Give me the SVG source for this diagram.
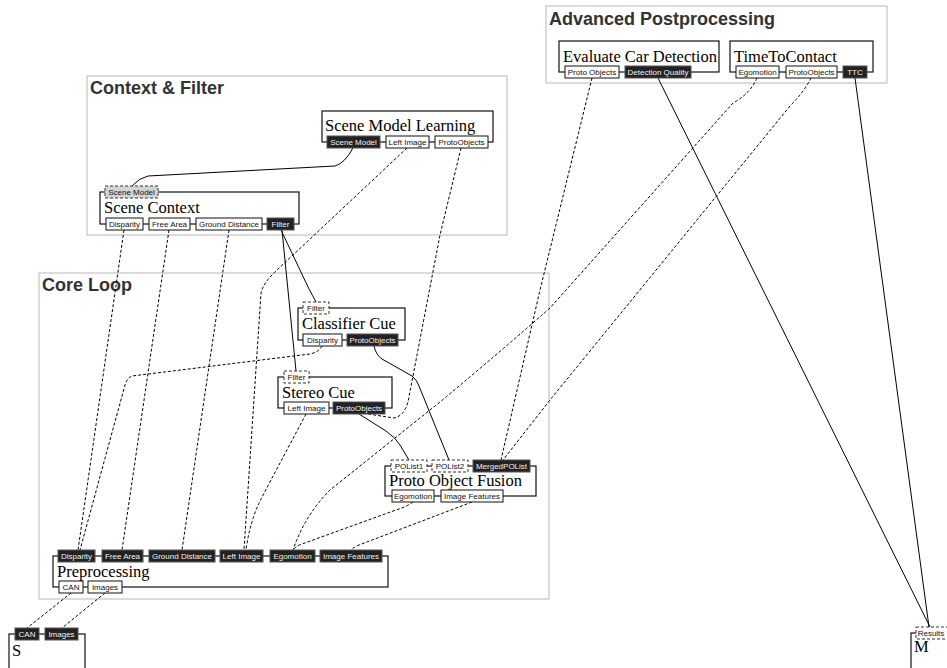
<svg xmlns="http://www.w3.org/2000/svg" width="947" height="668" viewBox="0 0 947 668">
  <style>
    .grp { fill: #fff; stroke: #c4c4c4; stroke-width: 1.2; }
    .gtitle { font-family: "Liberation Sans", Arial, sans-serif; font-weight: bold; font-size: 18px; fill: #333; }
    .body { fill: #fff; stroke: #111; stroke-width: 1.2; }
    .ntitle { font-family: "Liberation Serif", "Times New Roman", serif; font-size: 16.5px; fill: #000; }
    .port text { font-family: "Liberation Sans", Arial, sans-serif; font-size: 8px; text-anchor: middle; fill: #111; }
    .in rect { fill: #fff; stroke: #111; stroke-width: 1; }
    .out rect { fill: #222; stroke: #555; stroke-width: 1; }
    .out text { fill: #f2f2f2; }
    .opt rect { fill: #fff; stroke: #333; stroke-width: 1; stroke-dasharray: 3 2; }
    .opt.shade rect { fill: #d4d4d4; }
    .link { fill: none; stroke: #000; stroke-width: 1; }
    .dash { stroke-dasharray: 3 2; }
  </style>

  <!-- clusters -->
  <g id="cluster-context">
    <rect class="grp" x="87" y="76" width="420" height="159"/>
    <text class="gtitle" x="90" y="94">Context &amp; Filter</text>
  </g>
  <g id="cluster-post">
    <rect class="grp" x="546" y="6" width="341" height="77"/>
    <text class="gtitle" x="549" y="25">Advanced Postprocessing</text>
  </g>
  <g id="cluster-core">
    <rect class="grp" x="39" y="273" width="510" height="326"/>
    <text class="gtitle" x="42" y="291">Core Loop</text>
  </g>

  <!-- connectors -->
  <g id="edges">
    <!-- solid: control / object flow -->
    <path class="link" d="M353,148 Q345,163 335,166 L148,176 Q139,178 132,186"/>
    <path class="link" d="M281,230 L309,289 Q313,296 316,302"/>
    <path class="link" d="M282,230 L296,371"/>
    <path class="link" d="M374,346 Q376,355 382,359 L412,376 Q417,380 419,386 L449,460"/>
    <path class="link" d="M359,414 L386,431 Q396,438 400,445 L409,460"/>
    <path class="link" d="M658,78 L930,627"/>
    <path class="link" d="M855,78 L929,627"/>

    <!-- dashed: data streams -->
    <path class="link dash" d="M407,148 L277,270 Q263,283 261,293 L244,550"/>
    <path class="link dash" d="M461,148 L440,235 L408,402 Q404,416 394,418 L368,414"/>
    <path class="link dash" d="M124,230 L78,550"/>
    <path class="link dash" d="M169,230 L122,550"/>
    <path class="link dash" d="M229,230 L182,550"/>
    <path class="link dash" d="M322,346 Q319,352 310,354 L132,376 Q127,378 125,385 L80,550"/>
    <path class="link dash" d="M306,414 L262,497 Q250,520 246,550"/>
    <path class="link dash" d="M413,502 Q406,507 396,510 L302,544 Q296,546 293,550"/>
    <path class="link dash" d="M472,502 L359,545 Q354,547 351,550"/>
    <path class="link dash" d="M757,78 Q750,94 733,103 L550,308 Q500,352 440,402 L330,490 Q305,515 293,550"/>
    <path class="link dash" d="M811,78 Q804,92 790,106 L550,400 L503,460"/>
    <path class="link dash" d="M592,78 L540,290 L501,460"/>
    <path class="link dash" d="M71,593 L27,628"/>
    <path class="link dash" d="M105,593 L62,628"/>
  </g>

  <!-- nodes -->
  <g id="scene-model-learning">
    <rect class="body" x="322" y="111" width="171" height="31"/>
    <text class="ntitle" x="325" y="131">Scene Model Learning</text>
    <g class="port out"><rect x="327" y="136" width="53" height="12"/><text x="353.5" y="145">Scene Model</text></g>
    <g class="port in"><rect x="386" y="136" width="43" height="12"/><text x="407.5" y="145">Left Image</text></g>
    <g class="port in"><rect x="435" y="136" width="53" height="12"/><text x="461.5" y="145">ProtoObjects</text></g>
  </g>

  <g id="scene-context">
    <rect class="body" x="100" y="192" width="199" height="32"/>
    <text class="ntitle" x="104" y="213">Scene Context</text>
    <g class="port opt shade"><rect x="105" y="186" width="53" height="12"/><text x="131.5" y="195">Scene Model</text></g>
    <g class="port in"><rect x="106" y="218" width="37" height="12"/><text x="124.5" y="227">Disparity</text></g>
    <g class="port in"><rect x="149" y="218" width="41" height="12"/><text x="169.5" y="227">Free Area</text></g>
    <g class="port in"><rect x="196" y="218" width="66" height="12"/><text x="229" y="227">Ground Distance</text></g>
    <g class="port out"><rect x="267" y="218" width="27" height="12"/><text x="280.5" y="227">Filter</text></g>
  </g>

  <g id="evaluate-car-detection">
    <rect class="body" x="559" y="41" width="160" height="31"/>
    <text class="ntitle" x="563" y="62">Evaluate Car Detection</text>
    <g class="port in"><rect x="565" y="66" width="54" height="12"/><text x="592" y="75">Proto Objects</text></g>
    <g class="port out"><rect x="625" y="66" width="66" height="12"/><text x="658" y="75">Detection Quality</text></g>
  </g>

  <g id="time-to-contact">
    <rect class="body" x="730" y="41" width="143" height="31"/>
    <text class="ntitle" x="734" y="62">TimeToContact</text>
    <g class="port in"><rect x="736" y="66" width="43" height="12"/><text x="757.5" y="75">Egomotion</text></g>
    <g class="port in"><rect x="786" y="66" width="51" height="12"/><text x="811.5" y="75">ProtoObjects</text></g>
    <g class="port out"><rect x="843" y="66" width="24" height="12"/><text x="855" y="75">TTC</text></g>
  </g>

  <g id="classifier-cue">
    <rect class="body" x="298" y="308" width="107" height="32"/>
    <text class="ntitle" x="302" y="329">Classifier Cue</text>
    <g class="port opt"><rect x="303" y="302" width="26" height="12"/><text x="316" y="311">Filter</text></g>
    <g class="port in"><rect x="303" y="334" width="39" height="12"/><text x="322.5" y="343">Disparity</text></g>
    <g class="port out"><rect x="347" y="334" width="51" height="12"/><text x="372.5" y="343">ProtoObjects</text></g>
  </g>

  <g id="stereo-cue">
    <rect class="body" x="278" y="377" width="114" height="31"/>
    <text class="ntitle" x="282" y="398">Stereo Cue</text>
    <g class="port opt"><rect x="284" y="371" width="25" height="12"/><text x="296.5" y="380">Filter</text></g>
    <g class="port in"><rect x="284" y="402" width="45" height="12"/><text x="306.5" y="411">Left Image</text></g>
    <g class="port out"><rect x="333" y="402" width="52" height="12"/><text x="359" y="411">ProtoObjects</text></g>
  </g>

  <g id="proto-object-fusion">
    <rect class="body" x="385" y="466" width="151" height="30"/>
    <text class="ntitle" x="389" y="486">Proto Object Fusion</text>
    <g class="port opt"><rect x="391" y="460" width="36" height="12"/><text x="409" y="469">POList1</text></g>
    <g class="port opt"><rect x="432" y="460" width="36" height="12"/><text x="450" y="469">POList2</text></g>
    <g class="port out"><rect x="473" y="460" width="57" height="12"/><text x="501.5" y="469">MergedPOList</text></g>
    <g class="port in"><rect x="392" y="490" width="42" height="12"/><text x="413" y="499">Egomotion</text></g>
    <g class="port in"><rect x="441" y="490" width="62" height="12"/><text x="472" y="499">Image Features</text></g>
  </g>

  <g id="preprocessing">
    <rect class="body" x="53" y="556" width="335" height="31"/>
    <text class="ntitle" x="57" y="577">Preprocessing</text>
    <g class="port out"><rect x="58" y="550" width="37" height="12"/><text x="76.5" y="559">Disparity</text></g>
    <g class="port out"><rect x="102" y="550" width="41" height="12"/><text x="122.5" y="559">Free Area</text></g>
    <g class="port out"><rect x="149" y="550" width="66" height="12"/><text x="182" y="559">Ground Distance</text></g>
    <g class="port out"><rect x="220" y="550" width="43" height="12"/><text x="241.5" y="559">Left Image</text></g>
    <g class="port out"><rect x="270" y="550" width="45" height="12"/><text x="292.5" y="559">Egomotion</text></g>
    <g class="port out"><rect x="320" y="550" width="62" height="12"/><text x="351" y="559">Image Features</text></g>
    <g class="port in"><rect x="59" y="581" width="24" height="12"/><text x="71" y="590">CAN</text></g>
    <g class="port in"><rect x="88" y="581" width="34" height="12"/><text x="105" y="590">Images</text></g>
  </g>

  <g id="source">
    <rect class="body" x="9" y="634" width="76" height="50"/>
    <text class="ntitle" x="12" y="656">S</text>
    <g class="port out"><rect x="15" y="628" width="24" height="12"/><text x="27" y="637">CAN</text></g>
    <g class="port out"><rect x="45" y="628" width="33" height="12"/><text x="61.5" y="637">Images</text></g>
  </g>

  <g id="monitor">
    <rect class="body" x="911" y="633" width="50" height="50"/>
    <text class="ntitle" x="914" y="652">M</text>
    <g class="port opt"><rect x="916" y="627" width="36" height="12"/><text x="931" y="636">Results</text></g>
  </g>
</svg>
